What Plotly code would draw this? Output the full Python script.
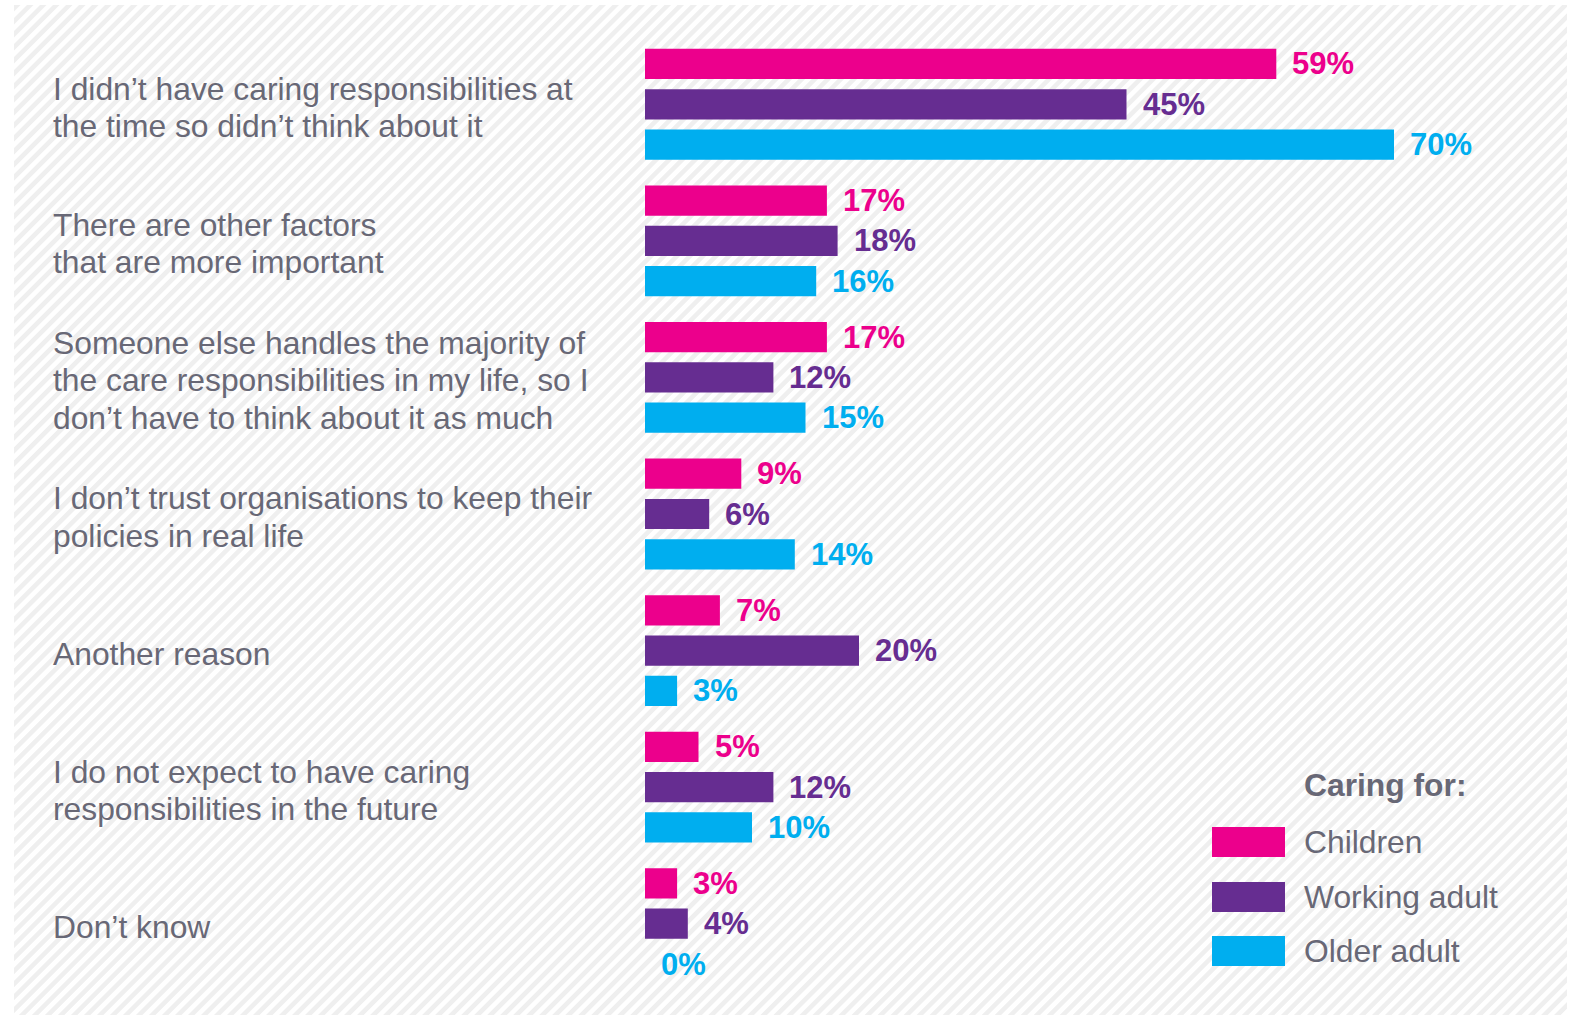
import base64
import plotly.graph_objects as go

# Survey responses: reasons for not considering caring policies
categories = [
    "I didn’t have caring responsibilities at<br>the time so didn’t think about it",
    "There are other factors<br>that are more important",
    "Someone else handles the majority of<br>the care responsibilities in my life, so I<br>don’t have to think about it as much",
    "I don’t trust organisations to keep their<br>policies in real life",
    "Another reason",
    "I do not expect to have caring<br>responsibilities in the future",
    "Don’t know",
]
series_names = ["Children", "Working adult", "Older adult"]
children = [59, 17, 17, 9, 7, 5, 3]
working_adult = [45, 18, 12, 6, 20, 12, 4]
older_adult = [70, 16, 15, 14, 3, 10, 0]
legend_title = "Caring for:"

colors = ["#EC008C", "#662D91", "#00AEEF"]
text_grey = "#686876"
font_family = "Liberation Sans, Arial, sans-serif"

W, H = 1578, 1015
M_L, M_R, M_T, M_B = 645, 13, 36, 23
PLOT_W = W - M_L - M_R
PLOT_H = H - M_T - M_B
SLOT = PLOT_H / len(categories)


def px_x(px):
    return (px - M_L) / PLOT_W


def px_y(py):
    return (H - M_B - py) / PLOT_H


fig = go.Figure()
values = [children, working_adult, older_adult]
for name, vals, col in zip(series_names, values, colors):
    fig.add_trace(go.Bar(
        name=name,
        y=categories,
        x=vals,
        orientation="h",
        marker=dict(color=col, line=dict(width=0)),
        showlegend=False,
        hoverinfo="skip",
    ))

annotations = []
# value labels at the end of each bar
bar_step = 40.3
shifts = [bar_step, 0, -bar_step]
for vals, col, ys in zip(values, colors, shifts):
    for cat, v in zip(categories, vals):
        annotations.append(dict(
            x=v, y=cat, xref="x", yref="y",
            text=f"{v}%", showarrow=False,
            xanchor="left", yanchor="middle",
            xshift=14, yshift=ys,
            font=dict(family=font_family, size=31, color=col, weight="bold"),
        ))

# left-aligned category labels, one line each for tight spacing
line_gap = 37.2
for cat in categories:
    lines = cat.split("<br>")
    n = len(lines)
    for k, line in enumerate(lines):
        annotations.append(dict(
            x=px_x(51), y=cat, xref="paper", yref="y",
            text=line, showarrow=False,
            xanchor="left", yanchor="middle",
            yshift=-((k - (n - 1) / 2) * line_gap) - 3,
            font=dict(family=font_family, size=31.8, color=text_grey),
        ))

# custom legend
annotations.append(dict(
    x=px_x(1302), y=px_y(785), xref="paper", yref="paper",
    text=legend_title, showarrow=False, xanchor="left", yanchor="middle",
    font=dict(family=font_family, size=31.8, color=text_grey, weight="bold"),
))
shapes = []
legend_centers = [842, 897, 951]
for name, col, cy in zip(series_names, colors, legend_centers):
    shapes.append(dict(
        type="rect", xref="paper", yref="paper",
        x0=px_x(1212), x1=px_x(1285), y0=px_y(cy + 15), y1=px_y(cy - 15),
        fillcolor=col, line=dict(width=0),
    ))
    annotations.append(dict(
        x=px_x(1302), y=px_y(cy), xref="paper", yref="paper",
        text=name, showarrow=False, xanchor="left", yanchor="middle",
        font=dict(family=font_family, size=31.8, color=text_grey),
    ))

# diagonal-stripe backdrop
bg_x0, bg_y0, bg_x1, bg_y1 = 14, 5, 1567, 1015
bw, bh = bg_x1 - bg_x0, bg_y1 - bg_y0
svg = (
    f'<svg xmlns="http://www.w3.org/2000/svg" width="{bw}" height="{bh}">'
    '<defs><pattern id="p" patternUnits="userSpaceOnUse" width="9.2" height="9.2" '
    'patternTransform="rotate(45)">'
    '<rect x="0" y="0" width="9.2" height="9.2" fill="#ffffff"/>'
    '<rect x="0" y="0" width="4.6" height="9.2" fill="#efefef"/>'
    '</pattern></defs>'
    f'<rect width="{bw}" height="{bh}" fill="url(#p)"/></svg>'
)
src = "data:image/svg+xml;base64," + base64.b64encode(svg.encode()).decode()

fig.update_layout(
    width=W, height=H,
    margin=dict(l=M_L, r=M_R, t=M_T, b=M_B, autoexpand=False),
    paper_bgcolor="#ffffff",
    plot_bgcolor="rgba(0,0,0,0)",
    barmode="group",
    bargap=1 - 3 * bar_step / SLOT,
    bargroupgap=0.25,
    annotations=annotations,
    shapes=shapes,
    images=[dict(
        source=src, xref="paper", yref="paper",
        x=px_x(bg_x0), y=px_y(bg_y0),
        sizex=bw / PLOT_W, sizey=bh / PLOT_H,
        xanchor="left", yanchor="top", sizing="stretch", layer="below",
    )],
    xaxis=dict(range=[0, (W - M_R - M_L) / 10.7], visible=False, fixedrange=True),
    yaxis=dict(
        categoryorder="array", categoryarray=categories,
        autorange="reversed", visible=False, fixedrange=True,
    ),
)

fig.write_html("out.html", config={"displayModeBar": False})
